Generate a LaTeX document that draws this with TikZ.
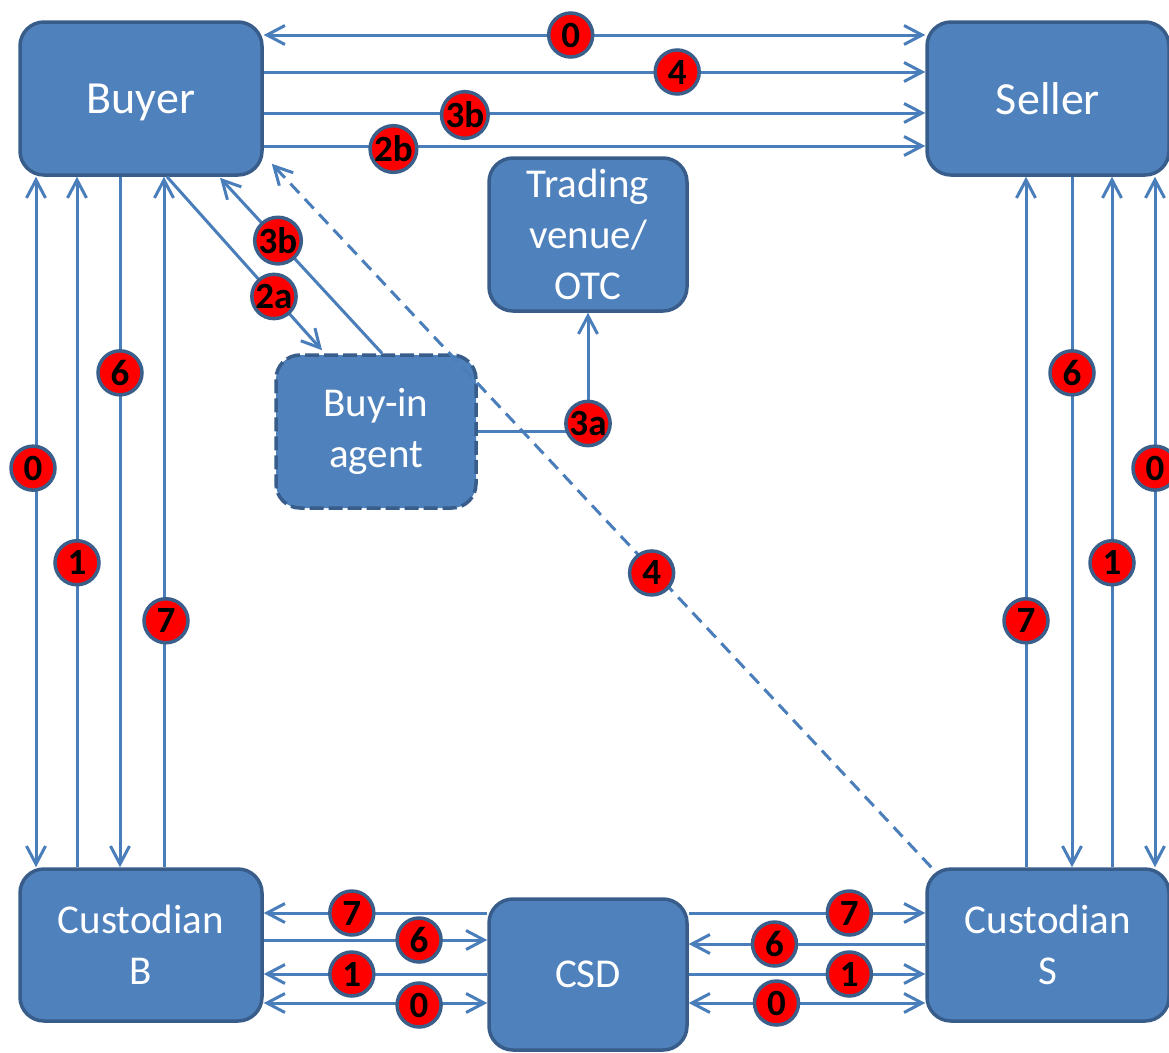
\documentclass[tikz,border=0pt]{standalone}
\usepackage{fontspec}
\setmainfont{Carlito}
\usetikzlibrary{arrows.meta,calc}

\definecolor{boxfill}{HTML}{4F81BD}
\definecolor{boxedge}{HTML}{385D8A}
\definecolor{linkblue}{HTML}{4A7EBB}
\definecolor{badgeedge}{HTML}{3A5F8B}

\begin{document}
\begin{tikzpicture}[x=1pt,y=-1pt,
  party/.style={draw=boxedge, line width=3.5pt, fill=boxfill,
    rounded corners=24pt, text=white, align=center, inner sep=0pt,
    font=\fontsize{41}{51}\selectfont},
  bigparty/.style={party, text depth=0pt, font=\fontsize{46}{55}\selectfont},
  agentbox/.style={party, dash pattern=on 14pt off 5pt},
  link/.style={draw=linkblue, line width=3pt},
  badge/.style={circle, solid, draw=badgeedge, line width=3.5pt, fill=red,
    minimum size=44pt, inner sep=0pt, text=black,
    font=\bfseries\fontsize{37}{37}\selectfont},
  >={Straight Barb[length=18pt,width=19pt]}]

\useasboundingbox (0,0) rectangle (1169,1052);

% parties
\node[bigparty, minimum width=242pt, minimum height=153pt] (buyer)  at (141,98.5)  {Buyer};
\node[bigparty, minimum width=242pt, minimum height=153pt] (seller) at (1048,98.5) {Seller};
\node[party, minimum width=242pt, minimum height=152pt] (custB) at (141,945)  {Custodian\\B};
\node[party, minimum width=242pt, minimum height=152pt] (custS) at (1048,945) {Custodian\\S};
\node[party, minimum width=198pt, minimum height=151pt] (csd) at (588,974.5) {CSD};
\node[party, minimum width=198pt, minimum height=153pt] (trading) at (588,234.5) {Trading\\venue/\\OTC};
\node[agentbox, minimum width=200pt, minimum height=153pt] (buyin) at (376,431.5) {Buy-in\\agent};

% buyer <-> seller
\draw[link,<->] ($(buyer.east)+(0,-63.5)$) -- ($(seller.west)+(0,-63.5)$) node[badge,pos=.464] (bs0) {0};
\draw[link,->] ($(buyer.east)+(0,-26.5)$) -- ($(seller.west)+(0,-26.5)$) node[badge,pos=.625] (bs4) {4};
\draw[link,->] ($(buyer.east)+(0,14.5)$) -- ($(seller.west)+(0,14.5)$) node[badge,pos=.304,yshift=-2pt] (bs3b) {3b};
\draw[link,->] ($(buyer.east)+(0,47.5)$) -- ($(seller.west)+(0,47.5)$) node[badge,pos=.196,yshift=-3pt] (bs2b) {2b};

% buyer <-> custodian B
\draw[link,<->] ($(buyer.south)+(-105,0)$) -- ($(custB.north)+(-105,0)$) node[badge,pos=.422,xshift=-3pt] (bc0) {0};
\draw[link,<-] ($(buyer.south)+(-64,0)$) -- ($(custB.north)+(-64,0)$) node[badge,pos=.559] (bc1) {1};
\draw[link,->] ($(buyer.south)+(-21,0)$) -- ($(custB.north)+(-21,0)$) node[badge,pos=.284] (bc6) {6};
\draw[link,<-] ($(buyer.south)+(23,0)$) -- ($(custB.north)+(23,0)$) node[badge,pos=.643,xshift=2pt] (bc7) {7};

% seller <-> custodian S
\draw[link,<-] ($(seller.south)+(-22,0)$) -- ($(custS.north)+(-22,0)$) node[badge,pos=.643] (sc7) {7};
\draw[link,->] ($(seller.south)+(24,0)$) -- ($(custS.north)+(24,0)$) node[badge,pos=.284] (sc6) {6};
\draw[link,<-] ($(seller.south)+(64,0)$) -- ($(custS.north)+(64,0)$) node[badge,pos=.559] (sc1) {1};
\draw[link,<->] ($(seller.south)+(107,0)$) -- ($(custS.north)+(107,0)$) node[badge,pos=.422] (sc0) {0};

% custodian B <-> CSD
\draw[link,<-] ($(custB.east)+(0,-32)$) -- ($(custB.east -| csd.west)+(0,-32)$) node[badge,pos=.394] (bd7) {7};
\draw[link,->] ($(custB.east)+(0,-5)$) -- ($(custB.east -| csd.west)+(0,-5)$) node[badge,pos=.695] (bd6) {6};
\draw[link,<-] ($(custB.east)+(0,29)$) -- ($(custB.east -| csd.west)+(0,29)$) node[badge,pos=.394] (bd1) {1};
\draw[link,<->] ($(custB.east)+(0,58)$) -- ($(custB.east -| csd.west)+(0,58)$) node[badge,pos=.695,yshift=-2pt] (bd0) {0};

% CSD <-> custodian S
\draw[link,->] ($(custS.west -| csd.east)+(0,-32)$) -- ($(custS.west)+(0,-32)$) node[badge,pos=.679] (sd7) {7};
\draw[link,<-] ($(custS.west -| csd.east)+(0,-1)$) -- ($(custS.west)+(0,-1)$) node[badge,pos=.3625] (sd6) {6};
\draw[link,->] ($(custS.west -| csd.east)+(0,29)$) -- ($(custS.west)+(0,29)$) node[badge,pos=.679] (sd1) {1};
\draw[link,<->] ($(custS.west -| csd.east)+(0,58)$) -- ($(custS.west)+(0,58)$) node[badge,pos=.371] (sd0) {0};

% buy-in flows
\draw[link,->] ($(buyer.south)+(26,0)$) -- ($(buyin.north)+(-54,-3)$) node[badge,pos=.69] (ba2a) {2a};
\draw[link,->] ($(buyin.north)+(6,0)$) -- ($(buyer.south)+(79,1)$) node[badge,pos=.642] (ba3b) {3b};
\draw[link,->] (buyin.east) -| (trading.south) node[badge,pos=.5,yshift=8pt] (at3a) {3a};

% custodian S -> buyer (dashed)
\draw[link,->,dash pattern=on 13pt off 8pt] ($(custS.north west)+(6,0)$) -- ($(buyer.south east)+(8,-13)$) node[badge,pos=.424,yshift=-4pt] (sb4) {4};

\end{tikzpicture}
\end{document}
